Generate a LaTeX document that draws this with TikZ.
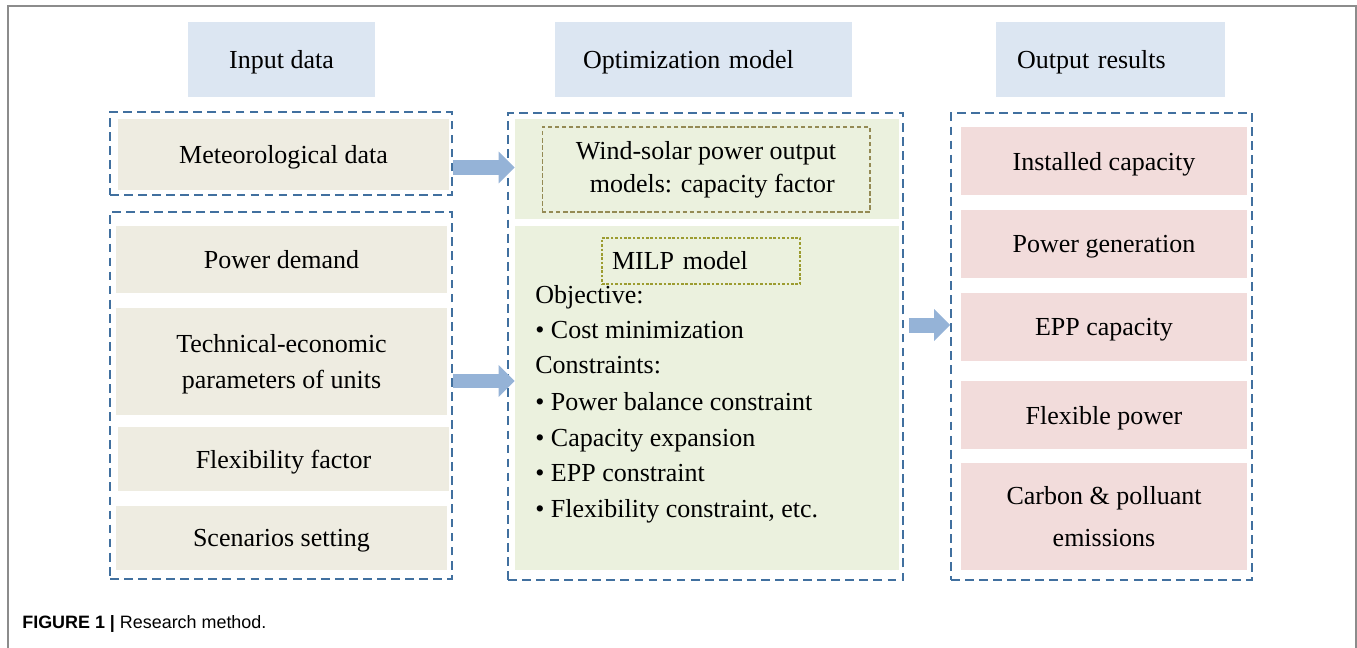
\documentclass[tikz,border=0pt]{standalone}
\usepackage{fontspec}
\setmainfont{Liberation Serif}
\newfontfamily\captionsans{Liberation Sans}
\usetikzlibrary{arrows.meta,positioning}

\definecolor{headblue}{HTML}{DCE6F2}
\definecolor{inbeige}{HTML}{EEECE1}
\definecolor{midgreen}{HTML}{EBF1DE}
\definecolor{outpink}{HTML}{F2DCDB}
\definecolor{arrowblue}{HTML}{95B3D7}
\definecolor{dashblue}{HTML}{41709F}
\definecolor{dasholive}{HTML}{948A54}
\definecolor{dashyellow}{HTML}{9C9C30}
\definecolor{framegray}{HTML}{8C8C8C}

\begin{document}
\begin{tikzpicture}[x=0.02cm, y=-0.02cm, font=\fontsize{14.8}{20.5}\selectfont,
  head/.style = {fill=headblue, minimum height=1.5cm, inner sep=0, text depth=0pt},
  group/.style = {draw=dashblue, line width=1.1pt, dash pattern=on 5pt off 3pt},
  inbox/.style = {fill=inbeige, minimum width=6.62cm, align=center, inner sep=0, text depth=0pt},
  midbox/.style = {fill=midgreen, minimum width=7.68cm, inner sep=0},
  outbox/.style = {fill=outpink, minimum width=5.72cm, minimum height=1.36cm, align=center, inner sep=0, text depth=0pt},
  item/.style = {anchor=base west, inner sep=0},
  flow/.style = {arrowblue, line width=0.3cm, -{Triangle[width=0.62cm, length=0.32cm]}}]

\useasboundingbox (0,0) rectangle (1357,648);
\draw[framegray, line width=1.1pt] (8,648) |- (1356,6) -- (1356,648);

% headers
\node[head, minimum width=3.74cm] (hin) at (281.5,59.5) {Input data};
\node[head, text width=4.82cm, inner xsep=0.56cm, align=left] (hmid) at (703.5,59.5) {Optimization model};
\node[head, text width=3.74cm, inner xsep=0.42cm, align=left] (hout) at (1110.5,59.5) {Output results};

% input data
\node[group, minimum width=6.84cm, minimum height=1.66cm] (gmet) at (281,153.5) {};
\node[inbox, minimum height=1.42cm] (met) at (283.5,154.5) {Meteorological data};
\node[group, minimum width=6.84cm, minimum height=7.34cm] (gin) at (281,395.5) {};
\node[inbox, minimum height=1.34cm] (dem) at (281.5,259.5) {Power demand};
\node[inbox, minimum height=2.14cm] (tech) at (281.5,361.5) {Technical-economic\\parameters of units};
\node[inbox, minimum height=1.28cm] (flex) at (283.5,459) {Flexibility factor};
\node[inbox, minimum height=1.28cm] (scen) at (281.5,538) {Scenarios setting};

% optimization model
\node[group, minimum width=7.9cm, minimum height=9.34cm] (gmid) at (705.5,346.5) {};
\node[midbox, minimum height=2cm] (wsbox) at (707,169) {};
\node[draw=dasholive, dash pattern=on 2.5pt off 1.5pt, line width=0.6pt, minimum width=6.56cm, minimum height=1.7cm, align=center, inner sep=0, font=\fontsize{14.8}{18.8}\selectfont] (ws) at (706,169.5) {Wind-solar power output\\ \hspace*{0.25cm}models: capacity factor};
\node[midbox, minimum height=6.88cm] (milpbox) at (707,398) {};
\node[draw=dashyellow, dash pattern=on 1.5pt off 1pt, line width=0.6pt, text width=3.56cm, inner xsep=0.2cm, inner ysep=0, minimum height=0.92cm, align=left] (milp) at (701,261) {MILP model};
\node[item] (obj) at (535,304) {Objective:};
\node[item] (cost) at (535,339) {• Cost minimization};
\node[item] (cons) at (535,374) {Constraints:};
\node[item] (bal) at (535,411) {• Power balance constraint};
\node[item] (expa) at (535,447) {• Capacity expansion};
\node[item] (eppc) at (535,482) {• EPP constraint};
\node[item] (flexc) at (535,518) {• Flexibility constraint, etc.};

% output results
\node[group, minimum width=6.02cm, minimum height=9.34cm] (gout) at (1101.5,346.5) {};
\node[outbox] (cap) at (1104,161) {Installed capacity};
\node[outbox] (gen) at (1104,244) {Power generation};
\node[outbox] (epp) at (1104,327) {EPP capacity};
\node[outbox] (flexp) at (1104,415) {Flexible power};
\node[outbox, minimum height=2.14cm, font=\fontsize{14.8}{24}\selectfont] (emis) at (1104,516.5) {Carbon \& polluant\\emissions};

% arrows
\draw[flow] ([yshift=-0.28cm]gmet.east) -- ([yshift=-0.28cm]gmet.east -| wsbox.west);
\draw[flow] ([yshift=0.29cm]gin.east) -- ([yshift=0.29cm]gin.east -| milpbox.west);
\draw[flow] ([xshift=0.1cm, yshift=0.43cm]gmid.east) -- ([yshift=0.43cm]gmid.east -| gout.west);

\node[anchor=base west, inner sep=0, font=\captionsans\fontsize{10.2}{12}\selectfont] (fig) at (22,629) {\textbf{FIGURE 1 |} Research method.};
\end{tikzpicture}
\end{document}
